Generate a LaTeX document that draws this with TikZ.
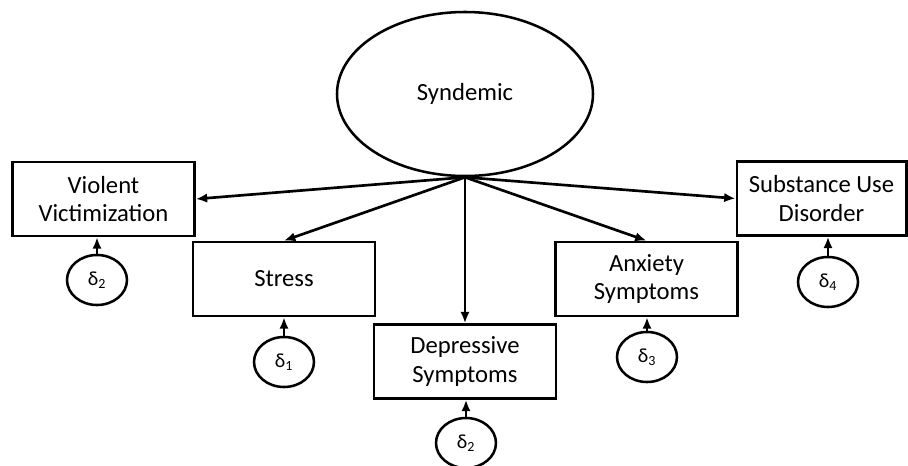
\documentclass[tikz,border=0pt]{standalone}
\usepackage{fontspec}
\setmainfont{Carlito}
\usetikzlibrary{arrows.meta,positioning,shapes.geometric}

\begin{document}
\begin{tikzpicture}[
    x=0.75pt,y=-0.75pt,
    box/.style={draw,line width=2pt,minimum height=55.5pt,minimum width=136.5pt,align=center,inner sep=2pt,font=\fontsize{18.5}{21.5}\selectfont},
    latent/.style={ellipse,draw,line width=1.9pt,minimum width=192pt,minimum height=123pt,font=\fontsize{18.5}{21.5}\selectfont},
    err/.style={ellipse,draw,line width=1.9pt,minimum width=45pt,minimum height=37.5pt,inner sep=0pt,font=\fontsize{15}{18}\selectfont},
    arr/.style={-{Latex[length=8.5pt,width=7pt]},line width=2pt}
  ]
    \useasboundingbox (0,0) rectangle (908,465);
    \node[latent] (syn) at (465,94) {Syndemic};
    \node[box] (vv) at (103.5,199) {Violent\\Victimization};
    \node[box] (stress) at (284,279) {Stress};
    \node[box] (dep) at (465,361.5) {Depressive\\Symptoms};
    \node[box] (anx) at (646.5,279) {Anxiety\\Symptoms};
    \node[box,minimum width=127pt] (sud) at (821.5,198.5) {Substance Use\\Disorder};
    \node[err] (e2a) at (97,280) {δ\textsubscript{2}};
    \node[err] (e1) at (284,362) {δ\textsubscript{1}};
    \node[err] (e2b) at (466,443) {δ\textsubscript{2}};
    \node[err] (e3) at (647,357) {δ\textsubscript{3}};
    \node[err] (e4) at (828,282) {δ\textsubscript{4}};
    \draw[arr] (syn.south) -- (vv.east);
    \draw[arr] (syn.south) -- (stress.north);
    \draw[arr] (syn.south) -- (dep.north);
    \draw[arr] (syn.south) -- (anx.north);
    \draw[arr] (syn.south) -- (sud.west);
    \draw[arr] (e2a.north) -- (e2a.north |- vv.south);
    \draw[arr] (e1.north) -- (stress.south);
    \draw[arr] (e2b.north) -- (e2b.north |- dep.south);
    \draw[arr] (e3.north) -- (e3.north |- anx.south);
    \draw[arr] (e4.north) -- (e4.north |- sud.south);
  \end{tikzpicture}
\end{document}
